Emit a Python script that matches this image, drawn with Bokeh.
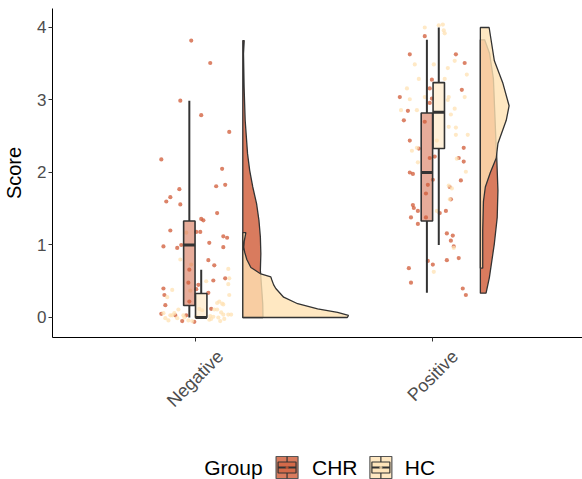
import numpy as np
from bokeh.plotting import figure
from bokeh.layouts import column
from bokeh.models import Range1d, FixedTicker
from bokeh.core.properties import value
from bokeh.embed import file_html
from bokeh.resources import INLINE

categories = ["Negative", "Positive"]
cat_pos = [1, 2]
groups = ["CHR", "HC"]
group_colors = ["#D05A36", "#FFE2B3"]
outline = "#333333"
FONT = "Liberation Sans"

# ---- jittered observations (offset from category centre, score) ----
neg_chr_jit = [-0.017, 0.063, -0.063, 0.025, 0.143, -0.143, 0.113, -0.067, 0.088, 0.126,
               -0.105, -0.122, -0.063, 0.092, 0.025, 0.034, 0.004, 0.021, -0.105, 0.118,
               0.134, 0.059, -0.059, -0.076, -0.134, 0.118, 0.055, 0.080, -0.025, 0.076,
               0.126, -0.029, 0.013, 0.004, -0.134, -0.130, 0.055, -0.126, 0.067, -0.143,
               -0.084, -0.038, -0.055, -0.004, -0.025]
neg_chr_score = [3.82, 3.51, 2.99, 2.79, 2.56, 2.18, 2.05, 1.77, 1.81, 1.83,
                 1.66, 1.60, 1.56, 1.44, 1.36, 1.34, 1.18, 1.18, 1.20, 1.12,
                 1.10, 1.03, 1.00, 0.96, 0.98, 0.97, 0.79, 0.72, 0.66, 0.51,
                 0.54, 0.48, 0.45, 0.39, 0.40, 0.31, 0.34, 0.17, 0.12, 0.05,
                 0.03, 0.03, -0.05, -0.06, 0.22]

neg_hc_jit = [-0.134, -0.126, -0.113, -0.105, -0.097, -0.088, -0.076, -0.071, -0.050, -0.046,
              -0.029, -0.013, 0.004, 0.017, 0.029, 0.059, 0.063, 0.067, 0.076, 0.080,
              0.092, 0.097, 0.105, 0.109, 0.118, 0.122, 0.139, 0.151, -0.118, -0.097,
              0.101, 0.118, 0.092, 0.113, 0.143, 0.046, 0.139, 0.143, -0.021, 0.139,
              -0.017, -0.063, -0.038]
neg_hc_score = [0.06, -0.01, -0.04, 0.03, 0.03, 0.06, -0.01, 0.11, 0.03, 0.00,
                -0.04, -0.05, 0.01, 0.12, 0.10, -0.03, 0.02, -0.02, 0.01, 0.11,
                0.11, 0.00, -0.05, 0.07, 0.04, -0.02, 0.04, 0.04, 0.28, 0.38,
                0.22, 0.18, 0.20, 0.19, 0.31, 0.50, 0.46, 0.54, 0.37, 0.67,
                0.73, 0.80, 1.17]

pos_chr_jit = [-0.034, -0.097, 0.097, 0.134, -0.004, -0.013, 0.122, -0.139, -0.004, -0.013,
               -0.105, -0.122, -0.034, -0.097, -0.059, 0.130, 0.109, 0.008, -0.013, 0.130,
               -0.097, -0.084, 0.000, -0.021, 0.118, -0.029, 0.071, 0.076, -0.084, -0.080,
               -0.063, 0.055, 0.029, -0.092, -0.029, -0.063, 0.059, 0.084, 0.076, 0.088,
               0.109, 0.059, -0.021, 0.000, -0.101, -0.092, 0.126, 0.139]
pos_chr_score = [3.88, 3.63, 3.63, 3.51, 3.28, 3.16, 3.14, 3.04, 3.02, 2.96,
                 2.85, 2.72, 2.70, 2.44, 2.33, 2.34, 2.20, 2.22, 2.20, 2.15,
                 2.00, 1.98, 1.90, 1.83, 1.89, 1.71, 1.80, 1.63, 1.55, 1.51,
                 1.47, 1.47, 1.44, 1.38, 1.38, 1.29, 1.16, 1.13, 1.06, 0.98,
                 0.82, 0.79, 0.78, 0.73, 0.68, 0.48, 0.40, 0.31]

pos_hc_jit = [0.025, 0.042, 0.046, -0.034, 0.050, -0.076, 0.004, 0.092, 0.063, 0.143,
              -0.059, 0.050, -0.109, 0.134, -0.097, 0.067, 0.063, -0.034, -0.134, -0.067,
              0.092, 0.076, 0.067, 0.097, 0.097, 0.147, 0.017, -0.088, -0.067, 0.101,
              -0.063, 0.139, 0.067, 0.080, 0.071, 0.017, 0.088, 0.004]
pos_hc_score = [4.03, 4.04, 3.96, 4.00, 3.92, 3.49, 3.49, 3.54, 3.44, 3.35,
                3.29, 3.29, 3.16, 3.04, 3.01, 3.04, 3.00, 3.04, 2.86, 2.86,
                2.88, 2.80, 2.63, 2.62, 2.52, 2.52, 2.44, 2.30, 2.34, 2.19,
                2.14, 2.01, 1.82, 1.78, 1.63, 1.47, 0.96, 0.63]

# ---- box statistics: [Neg CHR, Neg HC, Pos CHR, Pos HC] ----
box_cat = [1, 1, 2, 2]
box_group = ["CHR", "HC", "CHR", "HC"]
box_low = [0.00, 0.00, 0.34, 1.00]
box_q1 = [0.165, 0.00, 1.33, 2.33]
box_med = [1.00, 0.00, 2.00, 2.83]
box_q3 = [1.33, 0.33, 2.82, 3.24]
box_high = [2.99, 0.66, 3.83, 4.00]

# ---- half-violin outlines (score levels and half widths, category units) ----
neg_chr_vscore = [0.00, 0.19, 0.42, 0.65, 0.88, 1.11, 1.34, 1.57, 1.80, 2.03, 2.26, 2.72, 3.18, 3.64, 3.82]
neg_chr_vwidth = [0.085, 0.084, 0.079, 0.074, 0.076, 0.074, 0.068, 0.058, 0.042, 0.029, 0.020, 0.010, 0.0055, 0.003, 0.006]
neg_hc_vscore = [0.00, 0.03, 0.07, 0.12, 0.19, 0.28, 0.40, 0.45, 0.52, 0.56, 0.60, 0.69, 0.80, 0.90, 0.97, 1.05, 1.17]
neg_hc_vwidth = [0.440, 0.445, 0.399, 0.315, 0.231, 0.172, 0.139, 0.130, 0.122, 0.118, 0.076, 0.034, 0.017, 0.008, 0.004, 0.006, 0.013]
pos_chr_vscore = [0.335, 0.55, 1.02, 1.38, 1.75, 2.21, 2.31, 2.72, 3.29, 3.64, 3.83]
pos_chr_vwidth = [0.024, 0.038, 0.059, 0.071, 0.074, 0.069, 0.067, 0.062, 0.055, 0.039, 0.018]
pos_hc_vscore = [0.68, 1.20, 1.60, 1.80, 2.00, 2.20, 2.40, 2.72, 2.92, 3.23, 3.54, 4.00]
pos_hc_vwidth = [0.010, 0.010, 0.013, 0.021, 0.042, 0.067, 0.074, 0.109, 0.121, 0.095, 0.059, 0.037]

violin_offset = 0.2
box_offset = {"CHR": -0.025, "HC": 0.025}
box_half = 0.024
col = dict(zip(groups, group_colors))

p = figure(width=582, height=427, x_range=Range1d(0.399, 2.630), y_range=Range1d(-0.276, 4.262),
           output_backend="svg", toolbar_location=None,
           min_border_left=51, min_border_right=0, min_border_top=8, min_border_bottom=90)
p.grid.visible = False
p.outline_line_color = None
p.background_fill_color = "white"

# violins (CHR first, HC on top)
violins = [(1, "CHR", neg_chr_vscore, neg_chr_vwidth), (2, "CHR", pos_chr_vscore, pos_chr_vwidth),
           (1, "HC", neg_hc_vscore, neg_hc_vwidth), (2, "HC", pos_hc_vscore, pos_hc_vwidth)]
for c, g, vs, vw in violins:
    base = c + violin_offset
    xs = [base] + [base + w for w in vw] + [base]
    ys = [vs[0]] + list(vs) + [vs[-1]]
    p.patch(xs, ys, fill_color=col[g], fill_alpha=0.8, line_color=outline, line_width=1.3)

# jittered points
pts = [(1, "CHR", neg_chr_jit, neg_chr_score), (2, "CHR", pos_chr_jit, pos_chr_score),
       (1, "HC", neg_hc_jit, neg_hc_score), (2, "HC", pos_hc_jit, pos_hc_score)]
for c, g, jit, sc in pts:
    p.scatter([c + j for j in jit], sc, size=4.2, fill_color=col[g], fill_alpha=0.75, line_color=None)

# boxplots
for c, g, lo, q1, md, q3, hi in zip(box_cat, box_group, box_low, box_q1, box_med, box_q3, box_high):
    xc = c + box_offset[g]
    p.segment(x0=[xc, xc], y0=[lo, q3], x1=[xc, xc], y1=[q1, hi], line_color=outline, line_width=2)
    p.quad(left=[xc - box_half], right=[xc + box_half], bottom=[q1], top=[q3],
           fill_color=col[g], fill_alpha=0.5, line_color=outline, line_width=1.6)
    p.segment(x0=[xc - box_half], x1=[xc + box_half], y0=[md], y1=[md], line_color=outline, line_width=3)

# y axis
p.yaxis.ticker = FixedTicker(ticks=[0, 1, 2, 3, 4])
p.yaxis.major_label_text_font = FONT
p.yaxis.major_label_text_font_size = "17px"
p.yaxis.major_label_text_color = "#4D4D4D"
p.yaxis.major_label_standoff = 2
p.yaxis.axis_label = "Score"
p.yaxis.axis_label_text_font = FONT
p.yaxis.axis_label_text_font_size = "20px"
p.yaxis.axis_label_text_font_style = "normal"
p.yaxis.axis_label_text_color = "black"
p.yaxis.axis_label_standoff = 9
p.yaxis.major_tick_out = 4
p.yaxis.major_tick_in = 0
p.yaxis.minor_tick_line_color = None
p.yaxis.major_tick_line_color = outline

# x axis: ticks at the categories (minor ticks), rotated labels centred under them
label_shift = [0.1055, 0.0936]
label_pos = [c + s for c, s in zip(cat_pos, label_shift)]
p.xaxis.ticker = FixedTicker(ticks=label_pos, minor_ticks=cat_pos)
p.xaxis.major_label_overrides = {lp: name for lp, name in zip(label_pos, categories)}
p.xaxis.major_label_orientation = np.pi / 4
p.xaxis.major_label_text_font = FONT
p.xaxis.major_label_text_font_size = "18px"
p.xaxis.major_label_text_color = "#4D4D4D"
p.xaxis.major_tick_line_color = None
p.xaxis.major_tick_out = 0
p.xaxis.major_tick_in = 0
p.xaxis.major_label_standoff = 12
p.xaxis.minor_tick_out = 4
p.xaxis.minor_tick_in = 0
p.xaxis.minor_tick_line_color = outline
for ax in (p.xaxis, p.yaxis):
    ax.axis_line_color = "black"
    ax.axis_line_width = 1

# legend strip: its frame is aligned with the main plot's frame by the column layout,
# so x is measured in pixels from the page's left edge and y upward from the page bottom
lg = figure(width=582, height=52, x_range=Range1d(51, 582), y_range=Range1d(0, 52),
            output_backend="svg", toolbar_location=None, x_axis_location=None, y_axis_location=None,
            min_border_left=0, min_border_right=0, min_border_top=0, min_border_bottom=0)
lg.grid.visible = False
lg.outline_line_color = None
key_left = [275, 369]
label_x = [311, 404]
title_x = 203
ky0, ky1, kw = 1, 23, 22
kmid = (ky0 + ky1) / 2
for g, L in zip(groups, key_left):
    xc = L + kw / 2
    lg.quad(left=[L], right=[L + kw], bottom=[ky0], top=[ky1], fill_color=col[g], fill_alpha=0.8,
            line_color="#555555", line_width=1.2)
    lg.segment(x0=[xc, xc], x1=[xc, xc], y0=[ky0, kmid + 5.5], y1=[kmid - 5.5, ky1],
               line_color=outline, line_width=1.2)
    lg.quad(left=[L + 2], right=[L + kw - 2], bottom=[kmid - 5.5], top=[kmid + 5.5], fill_color=col[g],
            fill_alpha=0.5, line_color=outline, line_width=1.2)
    lg.segment(x0=[L + 2], x1=[L + kw - 2], y0=[kmid], y1=[kmid], line_color=outline, line_width=2)
    lg.scatter([xc], [kmid], size=3, fill_color=col[g], fill_alpha=0.75, line_color=None)
lg.text(x=[title_x] + label_x, y=[kmid] * 3, text=["Group"] + groups, text_align="left",
        text_baseline="middle", text_font=value(FONT), text_font_size="21px", text_color="black")

layout = column(p, lg, spacing=0)
open("out.html", "w").write(file_html(layout, INLINE))
